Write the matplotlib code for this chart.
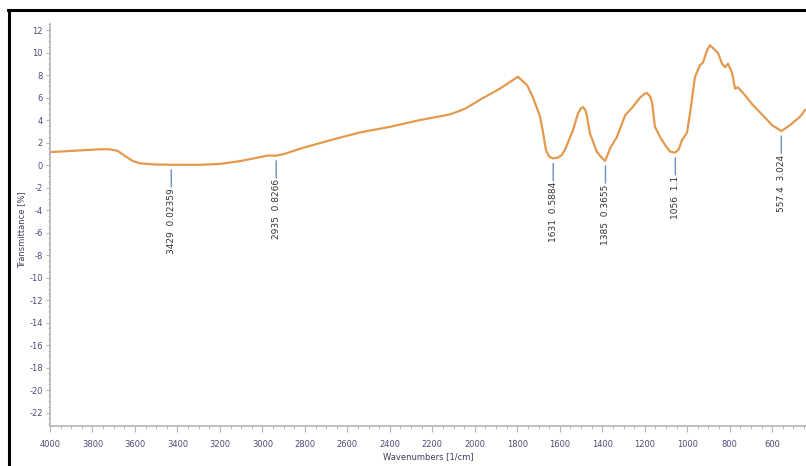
import matplotlib
matplotlib.use('Agg')
import matplotlib.pyplot as plt
from matplotlib.lines import Line2D
from matplotlib.ticker import MultipleLocator

plt.rcParams['axes.unicode_minus'] = False

# spectrum
wavenumber = [4000, 3859, 3765, 3718, 3680, 3647, 3609, 3576, 3506, 3429,
              3294, 3200, 3105, 3011, 2974, 2935, 2894, 2823, 2682, 2540,
              2399, 2258, 2117, 2046, 1976, 1881, 1797, 1754, 1726, 1693,
              1680, 1665, 1650, 1632, 1610, 1590, 1575, 1555, 1538, 1514,
              1500, 1491, 1480, 1472, 1458, 1425, 1400, 1387, 1375, 1363,
              1331, 1293, 1255, 1222, 1200, 1189, 1175, 1166, 1152, 1128,
              1105, 1081, 1058, 1040, 1025, 1001, 987, 964, 940, 926,
              907, 893, 879, 855, 836, 822, 808, 789, 775, 761,
              728, 690, 643, 601, 557, 516, 469, 445]
transmittance = [1.15, 1.3, 1.4, 1.4, 1.25, 0.8, 0.35, 0.15, 0.05, 0.024,
                 0.02, 0.1, 0.35, 0.7, 0.85, 0.83, 1.0, 1.45, 2.2, 2.9,
                 3.4, 4.0, 4.5, 5.0, 5.8, 6.8, 7.85, 7.1, 6.0, 4.3,
                 3.0, 1.3, 0.75, 0.59, 0.65, 0.9, 1.4, 2.3, 3.1, 4.6,
                 5.05, 5.15, 4.9, 4.3, 2.8, 1.15, 0.6, 0.37, 0.9, 1.5,
                 2.5, 4.4, 5.2, 6.0, 6.35, 6.4, 6.1, 5.6, 3.4, 2.5,
                 1.8, 1.2, 1.1, 1.4, 2.2, 2.9, 4.6, 7.8, 8.9, 9.1,
                 10.2, 10.65, 10.4, 9.95, 9.0, 8.7, 9.0, 8.2, 6.8, 6.9,
                 6.2, 5.3, 4.4, 3.55, 3.02, 3.55, 4.3, 4.9]

# labelled minima
peak_pos = [3429, 2935, 1631, 1385, 1056, 557.4]
peak_val = [0.02359, 0.8266, 0.5884, 0.3655, 1.1, 3.024]
peak_txt = ['3429  0.02359', '2935  0.8266', '1631  0.5884',
            '1385  0.3655', '1056  1.1', '557.4  3.024']

tick_col = '#4f4c78'
spine_col = '#b4b4b4'

fig = plt.figure(figsize=(8.06, 4.66), dpi=100)
ax = fig.add_axes([0.062, 0.0858, 0.938, 0.8618])

ax.plot(wavenumber, transmittance, color='#e39a4f', lw=1.6)

for w, v, t in zip(peak_pos, peak_val, peak_txt):
    ax.annotate('', xy=(w, v), xytext=(0, -16), textcoords='offset points',
                arrowprops=dict(arrowstyle='-', color='#6f8fc0', lw=1,
                                shrinkA=0, shrinkB=3.6))
    ax.annotate(t, xy=(w, v), xytext=(0, -17), textcoords='offset points',
                rotation=90, ha='center', va='top', fontsize=6.5,
                color='#333333')

ax.set_xlim(4000, 441)
ax.set_ylim(-23.2, 12.5)
ax.set_xticks(range(4000, 441, -200))
ax.set_yticks(range(-22, 13, 2))
ax.xaxis.set_minor_locator(MultipleLocator(50))
ax.yaxis.set_minor_locator(MultipleLocator(0.5))

for s in ['top', 'right']:
    ax.spines[s].set_visible(False)
for s in ['left', 'bottom']:
    ax.spines[s].set_color(spine_col)
    ax.spines[s].set_linewidth(1.2)

ax.tick_params(axis='x', which='major', length=4, color=spine_col,
               labelsize=6, labelcolor=tick_col, pad=6)
ax.tick_params(axis='x', which='minor', length=2.5, color=spine_col)
ax.tick_params(axis='y', which='major', length=3, color=spine_col,
               labelsize=6, labelcolor=tick_col, pad=2)
ax.tick_params(axis='y', which='minor', length=1.5, color=spine_col)

ax.set_xlabel('Wavenumbers [1/cm]', fontsize=6, color='#3c3c5a', labelpad=2)
ax.set_ylabel('Transmittance [%]', fontsize=6, color='#3c3c5a')
ax.yaxis.set_label_coords(-0.031, 0.49)

# black frame around the picture (top and left edges)
fig.add_artist(Line2D([8 / 806, 1], [1 - 10 / 466, 1 - 10 / 466],
                      transform=fig.transFigure, color='black', lw=2.2))
fig.add_artist(Line2D([9 / 806, 9 / 806], [0, 1 - 10 / 466],
                      transform=fig.transFigure, color='black', lw=2.2))

fig.savefig('out.png', dpi=100)
